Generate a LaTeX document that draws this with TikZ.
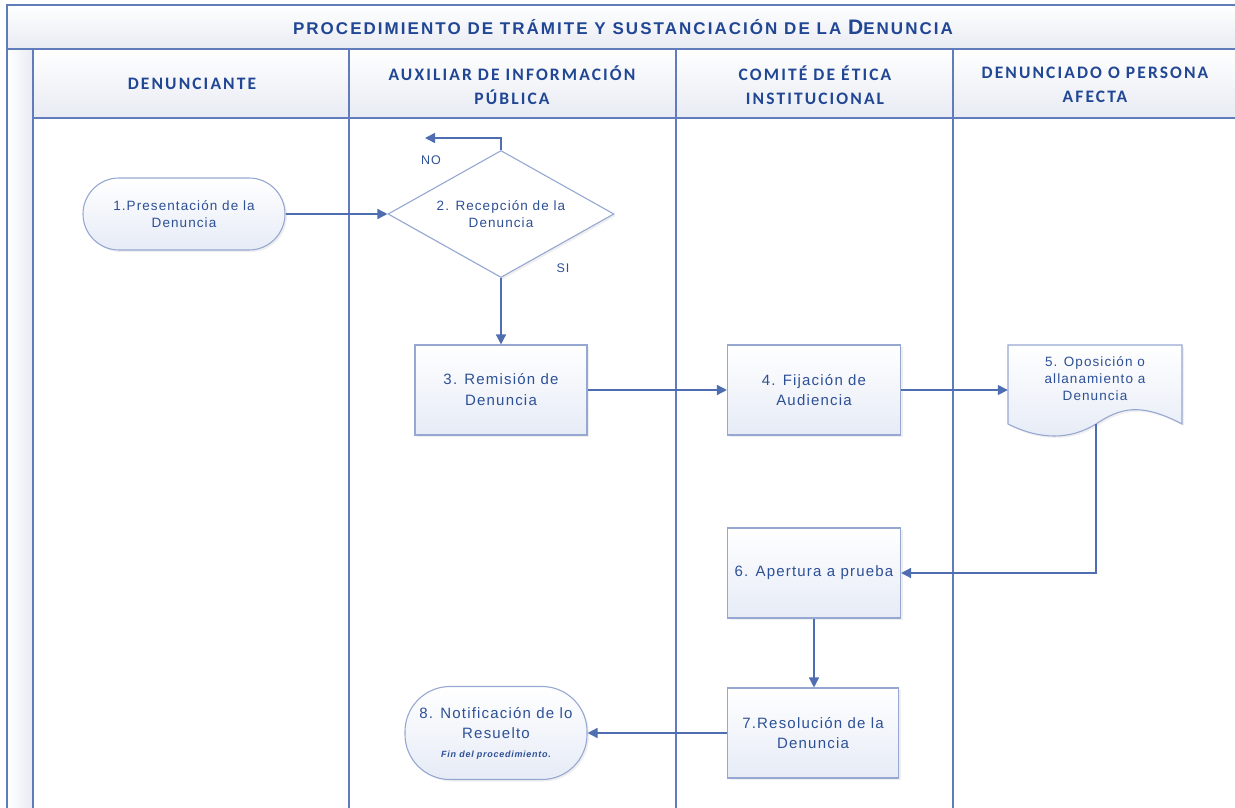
\documentclass[tikz,border=0pt]{standalone}
\usepackage{fontspec}
\setmainfont{Liberation Sans}[LetterSpace=8]
\newfontfamily\titlefont{Liberation Sans}[LetterSpace=12]
\newfontfamily\headfont{Carlito}[LetterSpace=12]
\usetikzlibrary{shapes.geometric,arrows.meta,shadows}
\definecolor{laneblue}{RGB}{96,124,186}
\definecolor{flowblue}{RGB}{79,110,178}
\definecolor{textblue}{RGB}{45,80,150}
\definecolor{headblue}{RGB}{32,70,148}
\definecolor{boxline}{RGB}{150,168,210}
\definecolor{boxfill}{RGB}{230,235,246}
\definecolor{bandfill}{RGB}{232,235,243}
\tikzset{
  proc/.style={draw=boxline, line width=1.1pt, top color=white, bottom color=boxfill,
    minimum width=172pt, minimum height=90pt, align=center, text=textblue,
    font=\fontsize{15}{20}\selectfont,
    drop shadow={shadow xshift=2pt, shadow yshift=-2pt, fill=black!12}},
  smalltext/.style={font=\fontsize{13.5}{17}\selectfont},
  term/.style={proc, rounded corners=36pt},
  flow/.style={draw=flowblue, line width=1.5pt, -{Triangle[length=10pt,width=10pt]}},
  lane/.style={draw=laneblue, line width=1.3pt},
  headtext/.style={text=headblue, font=\headfont\bfseries\fontsize{17.5}{24}\selectfont, align=center},
  flowlabel/.style={text=textblue, font=\fontsize{12.5}{14}\selectfont},
}
\begin{document}
\begin{tikzpicture}[x=1pt,y=-1pt]
\useasboundingbox (0,0) rectangle (1235,808);
\shade[top color=white, bottom color=bandfill] (7,5) rectangle (1235,49);
\shade[left color=white, right color=bandfill] (7,49) rectangle (33,808);
\shade[top color=white, bottom color=bandfill] (33,49) rectangle (1235,118);
\draw[lane] (1235,5) -- (7,5) -- (7,808);
\draw[lane] (7,49) -- (1235,49);
\draw[lane] (33,49) -- (33,808);
\draw[lane] (33,118) -- (1235,118);
\draw[lane] (349,49) -- (349,808);
\draw[lane] (676,49) -- (676,808);
\draw[lane] (953,49) -- (953,808);
\node[text=headblue, font=\titlefont\bfseries\fontsize{17}{20}\selectfont] (title) at (623,27)
  {PROCEDIMIENTO DE TRÁMITE Y SUSTANCIACIÓN DE LA {\fontsize{21}{20}\selectfont D}ENUNCIA};
\node[headtext] (h1) at (192,84) {DENUNCIANTE};
\node[headtext] (h2) at (512,85) {AUXILIAR DE INFORMACIÓN\\PÚBLICA};
\node[headtext] (h3) at (815,85) {COMITÉ DE ÉTICA\\INSTITUCIONAL};
\node[headtext] (h4) at (1095,85) {DENUNCIADO O PERSONA\\AFECTA};
\node[term, smalltext, minimum width=202pt, minimum height=72pt] (n1) at (184,214) {1.Presentación de la\\Denuncia};
\node[proc, smalltext, diamond, aspect=1.78, drop shadow={opacity=0}, top color=white, bottom color=white,
  minimum width=226pt, minimum height=127pt, inner sep=0pt] (n2) at (501,214) {2. Recepción de la\\Denuncia};
\node[proc, font=\fontsize{15}{21}\selectfont] (n3) at (501,390) {3. Remisión de\\Denuncia};
\node[proc, minimum width=173pt] (n4) at (814,390) {4. Fijación de\\Audiencia};
\path[draw=boxline, line width=1.1pt, top color=white, bottom color=boxfill,
  drop shadow={shadow xshift=2pt, shadow yshift=-2pt, fill=black!12}]
  (1008,345) -- (1182,345) -- (1182,424)
  .. controls (1140,402) and (1120,408) .. (1096,424)
  .. controls (1070,440) and (1040,440) .. (1008,424) -- cycle;
\node[text=textblue, align=center, smalltext, minimum width=174pt] (doc5) at (1095,379)
  {5. Oposición o\\allanamiento a\\Denuncia};
\coordinate (doc5b) at (1096,424);
\node[proc, minimum width=173pt] (n6) at (814,573) {6. Apertura a prueba};
\node[proc, minimum width=171pt] (n7) at (813,733) {7.Resolución de la\\Denuncia};
\node[term, minimum width=182pt, minimum height=93pt, rounded corners=45pt] (n8) at (496,733)
  {8. Notificación de lo\\Resuelto\\[-1pt]{\fontsize{9}{11}\selectfont\bfseries\itshape Fin del procedimiento.}};
\coordinate (noend) at (425,138);
\node[flowlabel] (no) at (431,160) {NO};
\node[flowlabel] (si) at (563,268) {SI};
\draw[flow] (n1) -- (n2);
\draw[flow] (n2.north) |- (noend);
\draw[flow] (n2) -- (n3);
\draw[flow] (n3) -- (n4);
\draw[flow] (n4.east) -- (n4.east -| doc5.west);
\draw[flow] (doc5b) |- (n6.east);
\draw[flow] (n6.south) -- (n6.south |- n7.north);
\draw[flow] (n7) -- (n8);
\end{tikzpicture}
\end{document}
